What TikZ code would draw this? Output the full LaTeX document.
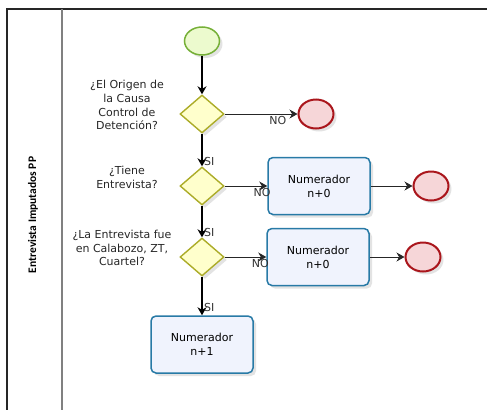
\documentclass[tikz,border=0pt]{standalone}
\usepackage{fontspec}
\setmainfont{DejaVu Sans}
\newfontfamily\lanefont{Carlito}
\usetikzlibrary{shapes.geometric,arrows.meta,shadows}
\definecolor{startgreen}{RGB}{118,176,56}
\definecolor{startfill}{RGB}{236,250,206}
\definecolor{endred}{RGB}{170,22,28}
\definecolor{endfill}{RGB}{246,214,216}
\definecolor{gateolive}{RGB}{172,172,40}
\definecolor{gatefill}{RGB}{255,255,204}
\definecolor{taskblue}{RGB}{40,122,166}
\definecolor{taskfill}{RGB}{240,243,253}
\begin{document}
\begin{tikzpicture}[x=1pt,y=-1pt,
    font=\fontsize{11}{13.8}\selectfont,
    softshadow/.style={drop shadow={shadow xshift=3pt,shadow yshift=-3pt,opacity=.18,fill=black!60}},
    startev/.style={ellipse,draw=startgreen,line width=1.5pt,fill=startfill,minimum width=35pt,minimum height=28pt,softshadow},
    endev/.style={ellipse,draw=endred,line width=2pt,fill=endfill,minimum width=35pt,minimum height=29pt,softshadow},
    gate/.style={diamond,draw=gateolive,line width=1.4pt,fill=gatefill,minimum width=44pt,minimum height=38pt,inner sep=0pt,softshadow},
    task/.style={rectangle,rounded corners=5pt,draw=taskblue,line width=1.5pt,fill=taskfill,minimum width=102pt,minimum height=57pt,align=center,softshadow},
    question/.style={align=center,text=black!85},
    flow/.style={-{Stealth[length=8pt,width=9pt]},black,line width=1.1pt},
    sideflow/.style={-{Stealth[length=8pt,width=9pt]},black!85,line width=.8pt},
    tag/.style={text=black!80,inner sep=1.5pt}]
    \useasboundingbox (0,0) rectangle (487,410);
    % lane
    \draw[black!85,line width=1.2pt] (487,9) -- (7,9) -- (7,410);
    \draw[black!50,line width=1.8pt] (62,9) -- (62,410);
    \node (lane) [rotate=90,font=\lanefont\bfseries\fontsize{11.5}{13}\selectfont] at (33,215) {Entrevista Imputados PP};
    % events, gates and tasks
    \node (start) [startev] at (202,41) {};
    \node (d1) [gate] at (202,114) {};
    \node (d2) [gate] at (202,186) {};
    \node (d3) [gate] at (202,257) {};
    \node (end1) [endev] at (316,114) {};
    \node (box1) [task] at (319,186) {Numerador\\n+0};
    \node (end2) [endev] at (431,186) {};
    \node (box2) [task] at (318,257) {Numerador\\n+0};
    \node (end3) [endev] at (423,257) {};
    \node (box3) [task] at (202,344.5) {Numerador\\n+1};
    % questions
    \node (q1) [question] at (127,105) {¿El Origen de\\la Causa\\Control de\\Detención?};
    \node (q2) [question] at (127,177) {¿Tiene\\Entrevista?};
    \node (q3) [question] at (122,248) {¿La Entrevista fue\\en Calabozo, ZT,\\Cuartel?};
    % flows
    \draw[flow] (start) -- (d1);
    \draw[flow] (d1) -- node[pos=.85,right,tag] {SI} (d2);
    \draw[flow] (d2) -- node[pos=.85,right,tag] {SI} (d3);
    \draw[flow] (d3) -- node[pos=.8,right,tag] {SI} (box3);
    \draw[sideflow] (d1) -- node[pos=.73,below,tag] {NO} (end1);
    \draw[sideflow] (d2) -- node[pos=.88,below,tag] {NO} (box1);
    \draw[sideflow] (d3) -- node[pos=.86,below,tag] {NO} (box2);
    \draw[sideflow] (box1) -- (end2);
    \draw[sideflow] (box2) -- (end3);
\end{tikzpicture}
\end{document}
